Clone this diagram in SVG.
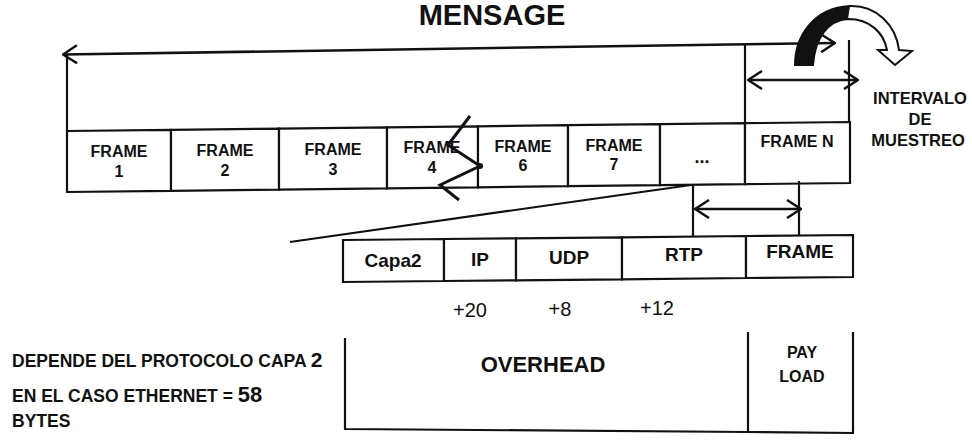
<svg xmlns="http://www.w3.org/2000/svg" width="972" height="440" viewBox="0 0 972 440">
<defs>
<style>
.ln{fill:none;stroke:#111;stroke-width:2.2;stroke-linejoin:miter}
.cell{fill:#fff;stroke:#111;stroke-width:2.2}
.t{font-family:"Liberation Sans",Arial,sans-serif;font-weight:bold;fill:#111;text-anchor:middle}
.fr{font-size:16px}
.pk{font-size:19px}
.nt{font-family:"Liberation Sans",Arial,sans-serif;font-weight:bold;fill:#111;font-size:17.5px}
.num{font-family:"Liberation Sans",Arial,sans-serif;fill:#111;font-size:20px;text-anchor:middle}
.arr{fill:none;stroke:#111;stroke-width:2.5;marker-start:url(#hd);marker-end:url(#hd)}
</style>
<marker id="hd" viewBox="0 0 16 20" refX="15" refY="10" markerWidth="16" markerHeight="20" markerUnits="userSpaceOnUse" orient="auto-start-reverse">
<path d="M1,1 L15,10 L1,19" fill="none" stroke="#111" stroke-width="2.5"/>
</marker>
</defs>
<rect width="972" height="440" fill="#fff"/>

<g id="title"><text class="t" x="492" y="25" font-size="29">MENSAGE</text></g>

<g id="message">
<line class="ln" x1="67" y1="55" x2="67" y2="131"/>
<line class="ln" x1="745" y1="44" x2="745" y2="123"/>
<line class="ln" x1="849" y1="40" x2="849" y2="122"/>
</g>

<g id="frame1"><polygon class="cell" points="67,131 171,129.8 171,190.8 67,192"/><text class="t fr" x="119" y="157">FRAME</text><text class="t fr" x="119" y="177">1</text></g>
<g id="frame2"><polygon class="cell" points="171,129.8 279,128.6 279,189.6 171,190.8"/><text class="t fr" x="225" y="156">FRAME</text><text class="t fr" x="225" y="176">2</text></g>
<g id="frame3"><polygon class="cell" points="279,128.6 387,127.3 387,188.3 279,189.6"/><text class="t fr" x="333" y="155">FRAME</text><text class="t fr" x="333" y="175">3</text></g>
<g id="frame4"><polygon class="cell" points="387,127.3 478,126.3 478,187.3 387,188.3"/><text class="t fr" x="432" y="153">FRAME</text><text class="t fr" x="432" y="173">4</text></g>
<g id="frame6"><polygon class="cell" points="478,126.3 568,125.2 568,186.2 478,187.3"/><text class="t fr" x="523" y="152">FRAME</text><text class="t fr" x="523" y="171">6</text></g>
<g id="frame7"><polygon class="cell" points="568,125.2 660,124.2 660,185.2 568,186.2"/><text class="t fr" x="614" y="151">FRAME</text><text class="t fr" x="614" y="170">7</text></g>
<g id="frame-dots"><polygon class="cell" points="660,124.2 745,123.2 745,184.2 660,185.2"/><text class="t" font-size="18" x="702" y="163">...</text></g>
<g id="frameN"><polygon class="cell" points="745,123.2 850,122 850,183 745,184.2"/><text class="t fr" x="797" y="147">FRAME N</text></g>

<g id="interval-label">
<text class="t" font-size="16.5" x="920" y="104">INTERVALO</text>
<text class="t" font-size="16.5" x="920" y="125">DE</text>
<text class="t" font-size="16.5" x="918" y="146">MUESTREO</text>
</g>

<g id="capa2"><polygon class="cell" points="343,240 444,239 444,281 343,282"/><text class="t pk" x="393" y="267">Capa2</text></g>
<g id="ip"><polygon class="cell" points="444,239 516,238.3 516,280.3 444,281"/><text class="t pk" x="480" y="266">IP</text></g>
<g id="udp"><polygon class="cell" points="516,238.3 622,237.3 622,279.3 516,280.3"/><text class="t pk" x="569" y="264">UDP</text></g>
<g id="rtp"><polygon class="cell" points="622,237.3 746,236 746,278 622,279.3"/><text class="t pk" x="684" y="261">RTP</text></g>
<g id="frame-payload"><polygon class="cell" points="746,236 853,235 853,277 746,278"/><text class="t pk" x="800" y="258">FRAME</text></g>

<g id="sizes">
<text class="num" x="470" y="317">+20</text>
<text class="num" x="560" y="316">+8</text>
<text class="num" x="657" y="315">+12</text>
</g>

<g id="note">
<text class="nt" x="12" y="367">DEPENDE DEL PROTOCOLO CAPA <tspan font-size="21">2</tspan></text>
<text class="nt" x="12" y="402">EN EL CASO ETHERNET = <tspan font-size="22">58</tspan></text>
<text class="nt" x="12" y="427">BYTES</text>
</g>

<g id="overhead">
<path class="ln" d="M345,338 L345,429 L748,432"/>
<text class="t" font-size="22" x="543" y="372">OVERHEAD</text>
</g>
<g id="payload">
<path class="ln" d="M748,332 L748,432 L853,433 L853,332"/>
<text class="t" font-size="16" x="802" y="358">PAY</text>
<text class="t" font-size="16" x="802" y="382">LOAD</text>
</g>

<g id="connectors">
<line class="arr" x1="63" y1="54.5" x2="835" y2="43"/>
<line class="arr" x1="748" y1="80" x2="858" y2="80"/>
<line class="ln" x1="693" y1="185" x2="693" y2="237"/>
<line class="ln" x1="799" y1="181" x2="799" y2="236"/>
<line class="arr" x1="695" y1="209" x2="801" y2="209"/>
<line class="ln" x1="290" y1="242" x2="691" y2="185"/>
<polyline fill="none" stroke="#111" stroke-width="3" points="470,116 448,145 480,166 440,185 459,200"/>
<circle cx="480" cy="166" r="3" fill="#111"/>
<path d="M795,65 C795,38 812,8 850,6 C876,5 896,25 899,50 L912,51 L895,65 L878,50 L887,50 C884,33 870,19 848,19 C828,20 815,38 813,65 Z" fill="#fff" stroke="#111" stroke-width="2"/>
<path d="M795,65 C795,38 812,8 850,6 L848,19 C828,20 815,38 813,65 Z" fill="#111"/>
</g>
</svg>
